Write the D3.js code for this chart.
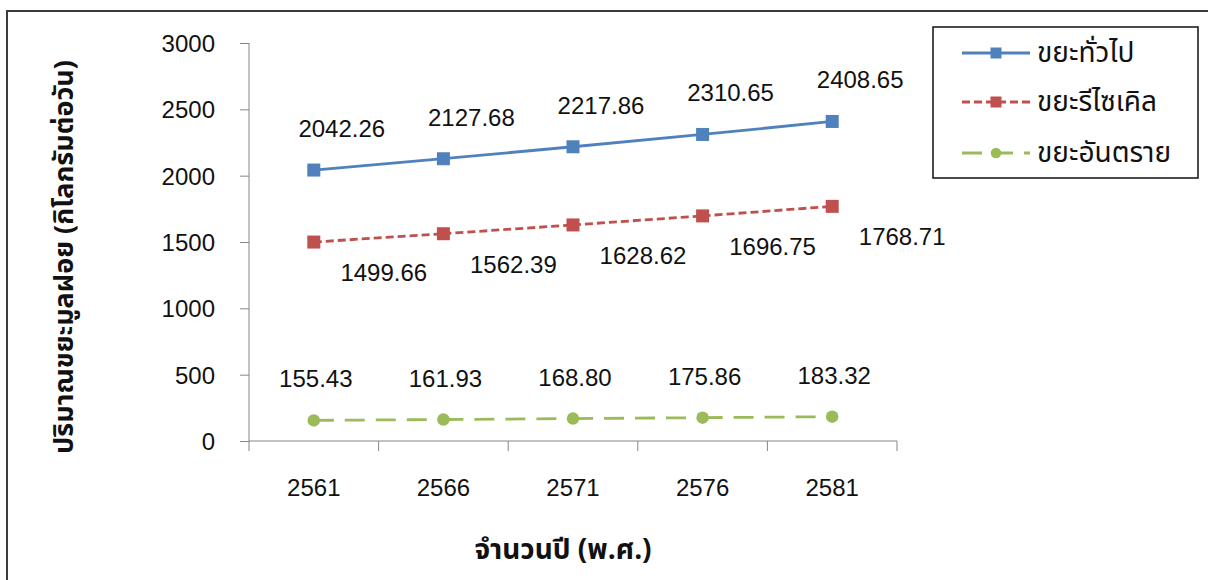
<!DOCTYPE html>
<html>
<head>
<meta charset="utf-8">
<script src="https://cdn.jsdelivr.net/npm/d3@7/dist/d3.min.js"></script>
<style>
  html, body { margin: 0; padding: 0; background: #fff; }
  svg { display: block; font-family: "Liberation Sans", Arial, sans-serif; }
  .thai { font-family: "Noto Sans Thai", "Noto Sans Thai Looped", "Loma", "Garuda", "Noto Sans", sans-serif; }
</style>
</head>
<body>
<svg id="chart" width="1208" height="580"></svg>
<script>
// Projected municipal waste, kg/day, by Buddhist-era year
const years = ["2561", "2566", "2571", "2576", "2581"];
const generalWaste = [2042.26, 2127.68, 2217.86, 2310.65, 2408.65];
const recycleWaste = [1499.66, 1562.39, 1628.62, 1696.75, 1768.71];
const hazardousWaste = [155.43, 161.93, 168.80, 175.86, 183.32];
const seriesNames = ["ขยะทั่วไป", "ขยะรีไซเคิล", "ขยะอันตราย"];
const yTicks = [0, 500, 1000, 1500, 2000, 2500, 3000];
const yTitle = "ปริมาณขยะมูลฝอย (กิโลกรัมต่อวัน)";
const xTitle = "จำนวนปี (พ.ศ.)";

const svg = d3.select("#chart");
const plot = { left: 249, right: 897, top: 43, bottom: 441 };
const axisColor = "#868686";

// outer frame
svg.append("path")
  .attr("d", "M1210,11 H7 V590")
  .attr("fill", "none").attr("stroke", "#3c3c3c").attr("stroke-width", 2);

const x = d3.scaleBand().domain(years).range([plot.left, plot.right]).padding(0);
const y = d3.scaleLinear().domain([0, 3000]).range([plot.bottom, plot.top]);
const cx = d => x(d) + x.bandwidth() / 2;

// y axis
const yAxis = svg.append("g")
  .attr("transform", `translate(${plot.left},0)`)
  .call(d3.axisLeft(y).tickValues(yTicks).tickSize(9).tickPadding(25).tickFormat(d3.format("d")));
yAxis.select(".domain").attr("stroke", axisColor).attr("d", `M0,${plot.top}V${plot.bottom}`);
yAxis.selectAll(".tick line").attr("stroke", axisColor);
yAxis.selectAll(".tick text").attr("font-size", 24).attr("fill", "#111")
  .attr("font-family", "Liberation Sans, Arial, sans-serif").attr("dy", "0.36em");

// x axis (labels centred in each category, ticks on category boundaries)
const xAxis = svg.append("g")
  .attr("transform", `translate(0,${plot.bottom})`)
  .call(d3.axisBottom(x).tickSize(0).tickPadding(38));
xAxis.select(".domain").attr("stroke", axisColor).attr("d", `M${plot.left},0H${plot.right}`);
xAxis.selectAll(".tick text").attr("font-size", 24).attr("fill", "#111")
  .attr("font-family", "Liberation Sans, Arial, sans-serif").attr("dy", "0.71em");
const bounds = years.map(d => x(d)).concat([x(years[years.length - 1]) + x.bandwidth()]);
xAxis.selectAll(".bound").data(bounds).join("line")
  .attr("x1", d => d).attr("x2", d => d).attr("y1", 0).attr("y2", 10)
  .attr("stroke", axisColor);

// axis titles
svg.append("text").attr("class", "thai")
  .attr("transform", `translate(73,257) rotate(-90)`)
  .attr("text-anchor", "middle").attr("font-size", 27).attr("font-weight", "bold")
  .attr("fill", "#111").text(yTitle);
svg.append("text").attr("class", "thai")
  .attr("x", 563).attr("y", 559)
  .attr("text-anchor", "middle").attr("font-size", 28).attr("font-weight", "bold")
  .attr("fill", "#111").text(xTitle);

const series = [
  { name: seriesNames[0], values: generalWaste, color: "#4F81BD", dash: null, marker: "square", ldx: 28, ldy: -33 },
  { name: seriesNames[1], values: recycleWaste, color: "#C0504D", dash: "8,4", marker: "square", ldx: 70, ldy: 39 },
  { name: seriesNames[2], values: hazardousWaste, color: "#9BBB59", dash: "20,11", marker: "circle", ldx: 2, ldy: -33 }
];

function drawMarker(g, type, px, py, color, size) {
  if (type === "square") {
    g.append("rect").attr("x", px - size / 2).attr("y", py - size / 2)
      .attr("width", size).attr("height", size).attr("fill", color);
  } else {
    g.append("circle").attr("cx", px).attr("cy", py).attr("r", size / 2).attr("fill", color);
  }
}

series.forEach(s => {
  const g = svg.append("g");
  const pts = years.map((yr, i) => [cx(yr), y(s.values[i])]);
  // each segment restarts its dash pattern at the point it leaves
  for (let i = 0; i < pts.length - 1; i++) {
    g.append("path")
      .attr("d", d3.line()([pts[i], pts[i + 1]]))
      .attr("fill", "none").attr("stroke", s.color).attr("stroke-width", 2.8)
      .attr("stroke-dasharray", s.dash);
  }
  pts.forEach(p => drawMarker(g, s.marker, p[0], p[1], s.color, s.marker === "square" ? 13 : 12.5));
  g.selectAll(".lbl").data(s.values).join("text")
    .attr("x", (d, i) => cx(years[i]) + s.ldx)
    .attr("y", d => y(d) + s.ldy)
    .attr("text-anchor", "middle").attr("font-size", 24).attr("fill", "#111")
    .text(d => d.toFixed(2));
});

// legend
const lg = svg.append("g");
lg.append("rect").attr("x", 933).attr("y", 27).attr("width", 265).attr("height", 151)
  .attr("fill", "#fff").attr("stroke", "#111").attr("stroke-width", 1.5);
const legendY = [53, 102, 153];
series.forEach((s, i) => {
  const ly = legendY[i];
  lg.append("line").attr("x1", 962).attr("x2", 1030).attr("y1", ly).attr("y2", ly)
    .attr("stroke", s.color).attr("stroke-width", 2.8).attr("stroke-dasharray", s.dash);
  drawMarker(lg, s.marker, 996, ly, s.color, s.marker === "square" ? 11 : 10.5);
  lg.append("text").attr("class", "thai").attr("x", 1037).attr("y", ly)
    .attr("dy", "0.32em").attr("font-size", 28).attr("fill", "#111").text(s.name);
});
</script>
</body>
</html>
